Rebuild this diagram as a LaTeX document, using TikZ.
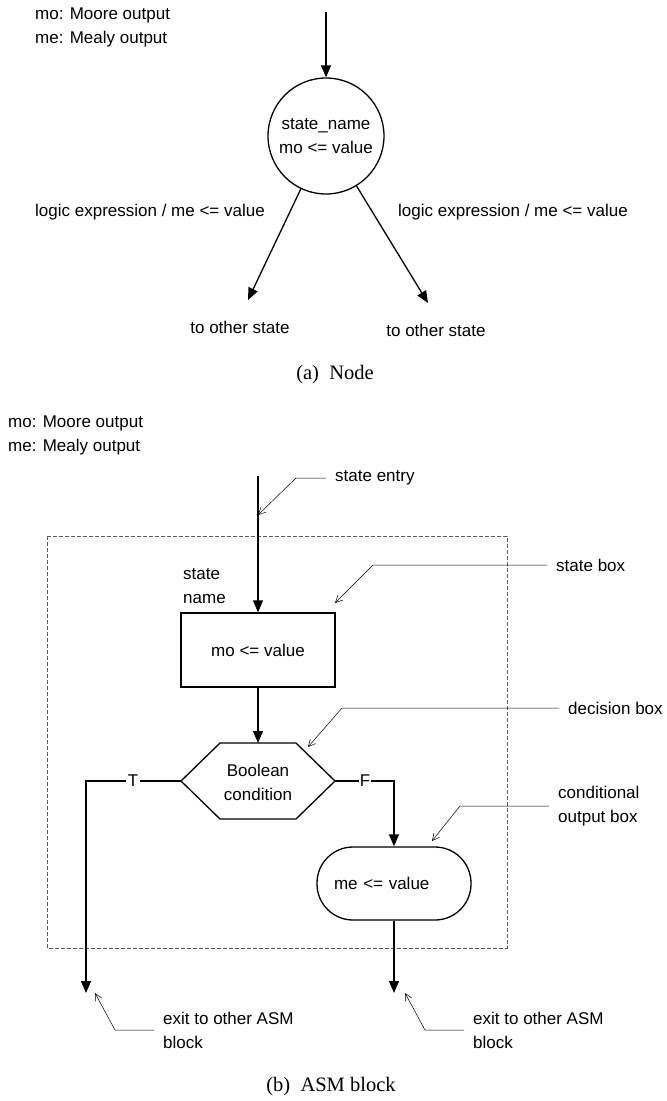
\documentclass[tikz,border=0pt]{standalone}
\usepackage{fontspec}
\setmainfont{Liberation Sans}
\newfontfamily\capfont{Liberation Serif}
\usetikzlibrary{arrows.meta}

\begin{document}
\begin{tikzpicture}[x=1pt, y=-1pt,
  txt/.style={font=\fontsize{17}{24}\selectfont, inner sep=0pt, align=left},
  lbl/.style={txt, inner xsep=9pt},
  flow/.style={line width=1.3pt, -{Triangle[length=12pt,width=10pt]}},
  note/.style={line width=0.5pt, -{Straight Barb[length=7pt,width=7pt]}},
  captext/.style={font=\capfont\fontsize{20.5}{24}\selectfont, inner sep=0pt}]
\useasboundingbox (0,0) rectangle (667,1101);

% (a) state diagram node
\node[txt, anchor=west] (key1) at (35,27) {mo: Moore output\\me: Mealy output};
\node[draw, circle, line width=1.3pt, minimum size=116pt, txt, align=center] (st) at (326,136) {state\_name\\mo <= value};
\coordinate (in1) at (326,12);
\coordinate (o1) at (248,300);
\coordinate (o2) at (428,303);
\path[draw,flow] (in1) -- (st);
\path[draw,flow] (st) -- (o1);
\path[draw,flow] (st) -- (o2);
\node[txt] (c1) at (150,212) {logic expression / me <= value};
\node[txt] (c2) at (513,212) {logic expression / me <= value};
\node[txt] (t1) at (240,327) {to other state};
\node[txt] (t2) at (436,330) {to other state};
\node[captext] (capa) at (335,375) {(a)~~Node};

% (b) ASM block
\node[txt, anchor=west] (key2) at (8,435) {mo: Moore output\\me: Mealy output};
\draw[line width=0.6pt, dash pattern=on 4pt off 2pt, gray!70!black] (47,536) rectangle (507,948);

\node[draw, rectangle, line width=1.3pt, minimum width=154pt, minimum height=74pt, txt] (sbox) at (258,650) {mo <= value};
\node[txt] (sname) at (183,586) [anchor=west] {state\\name};
\coordinate (in2) at (258,476);
\path[draw,flow] (in2) -- (sbox);

\coordinate (hl) at (181,781);
\coordinate (htl) at (220,743);
\coordinate (htr) at (296,743);
\coordinate (hr) at (335,781);
\coordinate (hbr) at (296,819);
\coordinate (hbl) at (220,819);
\path[draw, line width=1.3pt, line join=miter] (hl) -- (htl) -- (htr) -- (hr) -- (hbr) -- (hbl) -- cycle;
\node[txt, align=center] (dec) at (258,782) {Boolean\\condition};
\coordinate (htop) at (258,743);
\path[draw,flow] (sbox) -- (htop);

\node[draw, rectangle, rounded corners=36pt, line width=1.3pt, minimum height=73pt, txt, text width=120pt, inner xsep=17pt] (cbox) at (394,883.5) {me <= value};

% true and false exits
\coordinate (tbend) at (86,781);
\coordinate (tend) at (86,993);
\path[draw,flow] (hl) -- (tbend) -- (tend);
\node[txt, fill=white, inner xsep=2pt] (tl) at (133,781) {T};
\coordinate (fbend) at (394,781);
\path[draw,flow] (hr) -- (fbend) -- (cbox);
\node[txt, fill=white, inner xsep=1pt] (fl) at (365,781) {F};
\coordinate (cend) at (394,993);
\path[draw,flow] (cbox) -- (cend);

% callouts
\node[lbl, anchor=west] (se) at (326,478) {state entry};
\coordinate (sep) at (258,515);
\path[draw,note] (se.west) -- ++(-30,0) -- (sep);
\node[lbl, anchor=west] (sb) at (547,565) {state box};
\coordinate (sbp) at (335,603);
\path[draw,note] (sb.west) -- (373,565) -- (sbp);
\node[lbl, anchor=west] (db) at (559,708) {decision box};
\coordinate (dbp) at (308,747);
\path[draw,note] (db.west) -- (342,708) -- (dbp);
\node[lbl, anchor=west] (cb) at (549,806) {conditional\\output box};
\coordinate (cbp) at (432,841);
\path[draw,note] (cb.west) -- (460,806) -- (cbp);
\node[lbl, anchor=west] (e1) at (154,1030) {exit to other ASM\\block};
\coordinate (e1p) at (95,993);
\path[draw,note] (e1.west) -- (115,1030) -- (e1p);
\node[lbl, anchor=west] (e2) at (464,1030) {exit to other ASM\\block};
\coordinate (e2p) at (405,993);
\path[draw,note] (e2.west) -- (425,1030) -- (e2p);

\node[captext] (capb) at (331,1087) {(b)~~ASM block};
\end{tikzpicture}
\end{document}
